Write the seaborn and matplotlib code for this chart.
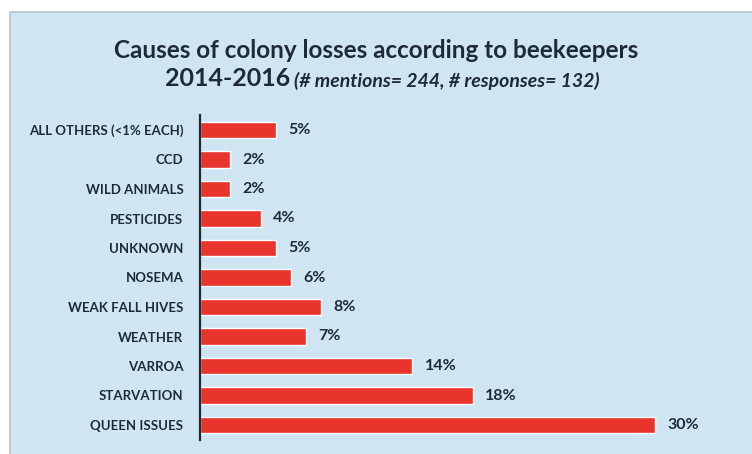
import matplotlib
matplotlib.use("Agg")
import matplotlib.pyplot as plt
from matplotlib.patches import Rectangle
import pandas as pd
import seaborn as sns

# data (top to bottom)
causes = ["ALL OTHERS (<1% EACH)", "CCD", "WILD ANIMALS", "PESTICIDES", "UNKNOWN",
          "NOSEMA", "WEAK FALL HIVES", "WEATHER", "VARROA", "STARVATION", "QUEEN ISSUES"]
percent = [5, 2, 2, 4, 5, 6, 8, 7, 14, 18, 30]

df = pd.DataFrame({"cause": causes, "percent": percent})

panel_blue = "#cfe6f2"
bar_red = "#e8342c"
text_dark = "#1e2b36"

sns.set_theme(style="white")
plt.rcParams["font.family"] = ["Lato", "DejaVu Sans"]

fig = plt.figure(figsize=(7.52, 4.54), dpi=100)
fig.patch.set_facecolor("white")

# light blue panel behind the chart
panel = Rectangle((10 / 752, -0.01), 1.0, 1 - 12 / 454 + 0.01,
                  transform=fig.transFigure, facecolor=panel_blue,
                  edgecolor="#b9c3c9", linewidth=1.2, zorder=-10)
fig.add_artist(panel)

ax = fig.add_axes([200 / 752, 14.25 / 454, 500 / 752, 324.5 / 454])
ax.set_facecolor("none")

sns.barplot(data=df, x="percent", y="cause", orient="h", color=bar_red,
            width=0.57, saturation=1, ax=ax)

ax.set_xlim(0, 33)
ax.bar_label(ax.containers[0], fmt="%d%%", padding=9, fontsize=11.5,
             fontweight="bold", color=text_dark)

ax.set_xlabel("")
ax.set_ylabel("")
ax.set_xticks([])
ax.tick_params(axis="y", length=0, pad=12)
for lbl in ax.get_yticklabels():
    lbl.set_fontsize(9.5)
    lbl.set_fontweight("bold")
    lbl.set_color(text_dark)

for side in ["top", "right", "bottom"]:
    ax.spines[side].set_visible(False)
ax.spines["left"].set_color(text_dark)
ax.spines["left"].set_linewidth(1.6)

# two-line title
fig.text(0.5, 1 - 50 / 454, "Causes of colony losses according to beekeepers",
         ha="center", va="center", fontsize=17.5, fontweight="bold", color=text_dark)
fig.text(290 / 752, 1 - 79 / 454, "2014-2016", ha="right", va="center",
         fontsize=18, fontweight="bold", color=text_dark)
fig.text(294 / 752, 1 - 81 / 454, "(# mentions= 244, # responses= 132)",
         ha="left", va="center", fontsize=14, fontweight="bold",
         fontstyle="italic", color=text_dark)

fig.savefig("out.png", dpi=100)
